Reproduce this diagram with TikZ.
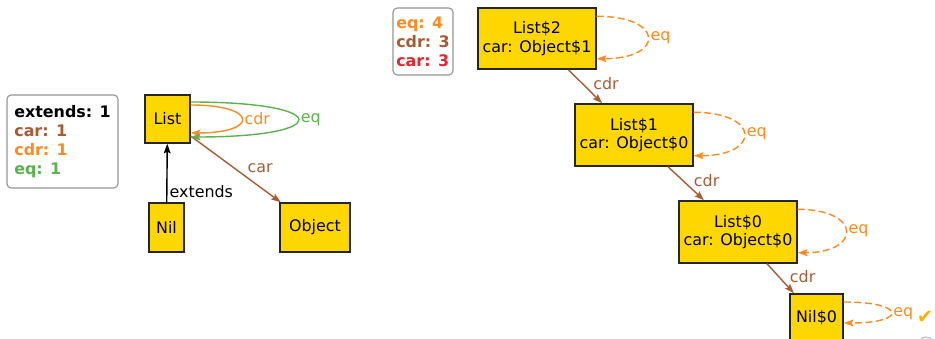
\documentclass[tikz,border=0pt]{standalone}
\usepackage{fontspec}
\setmainfont{DejaVu Sans}
\usetikzlibrary{positioning, arrows.meta, calc}

\definecolor{nodegold}{RGB}{255,215,0}
\definecolor{relbrown}{RGB}{168,92,52}
\definecolor{relorange}{RGB}{250,140,35}
\definecolor{relgreen}{RGB}{92,178,80}
\definecolor{relred}{RGB}{228,38,48}
\definecolor{legendgray}{RGB}{150,150,150}
\definecolor{checkgold}{RGB}{250,180,0}

\begin{document}
\begin{tikzpicture}[x=0.025cm, y=-0.025cm,
	every node/.style={font=\fontsize{11.3}{13}\selectfont},
	atom/.style={draw=black!85, fill=nodegold, line width=1pt, inner sep=0pt, align=center},
	legend/.style={draw=legendgray, fill=white, rounded corners=3pt, line width=0.8pt, align=left, inner sep=0pt, font=\bfseries\fontsize{11.3}{13.5}\selectfont},
	rel/.style={-{Stealth[length=2.4mm, width=1.7mm, inset=0.4mm]}, line width=1pt},
	eqloop/.style={rel, relorange, dash pattern=on 5pt off 2.5pt},
	lbl/.style={inner sep=1.5pt}]
	
	\useasboundingbox (0,0) rectangle (935,339);
	
	% Meta model
	\node[legend, minimum width=2.775cm, minimum height=2.325cm] (legendmeta) at (62.5,141.5)
	{extends: 1\\ \textcolor{relbrown}{car: 1}\\ \textcolor{relorange}{cdr: 1}\\ \textcolor{relgreen}{eq: 1}};
	
	\node[atom, minimum width=1.125cm, minimum height=1.2cm] (list) at (167.5,119) {List};
	\node[atom, minimum width=0.875cm, minimum height=1.225cm] (nil) at (166.5,227.5) {Nil};
	\node[atom, minimum width=1.75cm, minimum height=1.225cm] (object) at (315,227.5) {Object};
	
	\draw[rel, black] (nil) -- (list) node[lbl, pos=0.18, right] {extends};
	\draw[rel, relbrown] (list) -- (object) node[lbl, pos=0.6, above right, text=relbrown] {car};
	\draw[rel, relorange] ($(list.east)+(0,-14)$) .. controls +(68,0) and +(68,0) .. ($(list.east)+(0,14)$)
	node[lbl, pos=0.5, right, text=relorange] {cdr};
	\draw[rel, relgreen] ($(list.east)+(0,-17)$) .. controls +(143,0) and +(143,0) .. ($(list.east)+(0,18)$)
	node[lbl, pos=0.5, right, text=relgreen] {eq};
	
	% Instance
	\node[legend, minimum width=1.5cm, minimum height=1.675cm] (legendinst) at (423,41.5)
	{\textcolor{relorange}{eq: 4}\\ \textcolor{relbrown}{cdr: 3}\\ \textcolor{relred}{car: 3}};
	
	\node[atom, minimum width=2.95cm, minimum height=1.525cm] (list2) at (537,38.5) {List\$2\\car: Object\$1};
	\node[atom, minimum width=2.95cm, minimum height=1.55cm] (list1) at (634,135) {List\$1\\car: Object\$0};
	\node[atom, minimum width=2.95cm, minimum height=1.55cm] (list0) at (738,232) {List\$0\\car: Object\$0};
	\node[atom, minimum width=1.325cm, minimum height=1.2cm] (nil0) at (816.5,318) {Nil\$0};
	
	\draw[rel, relbrown] (list2) -- (list1) node[lbl, pos=0.42, right=2mm, text=relbrown] {cdr};
	\draw[rel, relbrown] (list1) -- (list0) node[lbl, pos=0.42, right=2mm, text=relbrown] {cdr};
	\draw[rel, relbrown] (list0) -- (nil0) node[lbl, pos=0.45, right=2mm, text=relbrown] {cdr};
	
	\draw[eqloop] ($(list2.north east)+(0,9)$) .. controls +(68,0) and +(68,0) .. ($(list2.south east)+(0,-11)$)
	node[lbl, pos=0.5, right, text=relorange] {eq};
	\draw[eqloop] ($(list1.north east)+(0,9)$) .. controls +(67,0) and +(67,0) .. ($(list1.south east)+(0,-11)$)
	node[lbl, pos=0.5, right, text=relorange] {eq};
	\draw[eqloop] ($(list0.north east)+(0,9)$) .. controls +(64,0) and +(64,0) .. ($(list0.south east)+(0,-11)$)
	node[lbl, pos=0.5, right, text=relorange] {eq};
	\draw[eqloop] ($(nil0.east)+(0,-16)$) .. controls +(63,0) and +(63,0) .. ($(nil0.east)+(0,5)$)
	node[lbl, pos=0.55, right, text=relorange] (eqnil) {eq};
	
	\node[text=checkgold, font=\fontsize{14}{14}\selectfont, inner sep=0pt] (check) at (925,317) {✔};
	\draw[draw={rgb,255:red,170;green,170;blue,220}, line width=0.6pt] (926,345) circle (8);
	
\end{tikzpicture}
\end{document}
